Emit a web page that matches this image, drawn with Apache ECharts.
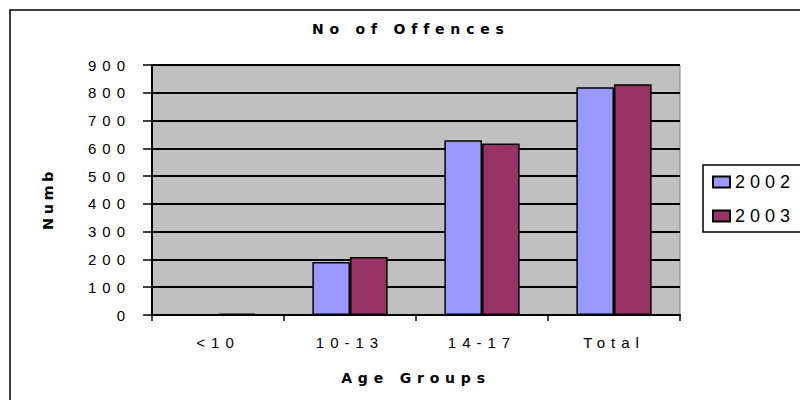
<!DOCTYPE html>
<html>
<head>
<meta charset="utf-8">
<script src="https://cdn.jsdelivr.net/npm/echarts@6/dist/echarts.min.js"></script>
<style>
  html, body { margin: 0; padding: 0; background: #fff; }
  #chart { width: 800px; height: 400px; }
  /* wide tracking, keyed on each text size used below */
  #chart text[style*="14px"] { letter-spacing: 5.8px; }
  #chart text[style*="14.5px"] { letter-spacing: 3.5px; }
  #chart text[style*="15px"] { letter-spacing: 6px; }
  #chart text[style*="18px"] { letter-spacing: 5px; }
</style>
</head>
<body>
<div id="chart"></div>
<script>
// Offences by age group
const categories = ['<10', '10-13', '14-17', 'Total'];
const seriesNames = ['2002', '2003'];
const offences2002 = [0, 191, 629, 820];
const offences2003 = [5, 209, 617, 831];
const yMin = 0;
const yMax = 900;
const yStep = 100;

const titleText = 'No of Offences';
const xAxisTitle = 'Age Groups';
const yAxisTitle = 'Numb';

const FONT = '"Liberation Sans", Arial, sans-serif';
const HEAD_FONT = '"DejaVu Sans", "Liberation Sans", sans-serif';

const chart = echarts.init(document.getElementById('chart'), null, { renderer: 'svg' });

chart.setOption({
  backgroundColor: '#ffffff',
  animation: false,
  title: {
    text: titleText,
    left: 312,
    top: 22,
    padding: 0,
    textStyle: { fontFamily: HEAD_FONT, fontSize: 14, fontWeight: 'bold', color: '#000' }
  },
  legend: {
    orient: 'vertical',
    left: 703,
    top: 165,
    padding: [8, 40, 7, 9],
    itemGap: 16,
    itemWidth: 17,
    itemHeight: 11,
    borderColor: '#000',
    borderWidth: 1.5,
    backgroundColor: '#fff',
    icon: 'rect',
    data: seriesNames,
    textStyle: { fontFamily: FONT, fontSize: 18, color: '#000' }
  },
  grid: {
    left: 152,
    right: 120,
    top: 65,
    bottom: 85,
    show: true,
    backgroundColor: '#c0c0c0',
    borderColor: '#808080',
    borderWidth: 1
  },
  xAxis: {
    type: 'category',
    data: categories,
    name: xAxisTitle,
    nameLocation: 'middle',
    nameGap: 56,
    nameTextStyle: { fontFamily: HEAD_FONT, fontSize: 14, fontWeight: 'bold', color: '#000' },
    axisLine: { lineStyle: { color: '#000', width: 2 } },
    axisTick: { show: true, alignWithLabel: false, length: 6, lineStyle: { color: '#000', width: 1.5 } },
    axisLabel: { margin: 20, fontFamily: FONT, fontSize: 15, color: '#000' },
    splitLine: { show: false }
  },
  yAxis: {
    type: 'value',
    min: yMin,
    max: yMax,
    interval: yStep,
    axisLine: { show: true, lineStyle: { color: '#000', width: 2 } },
    axisTick: { show: true, length: 9, lineStyle: { color: '#000', width: 1.5 } },
    axisLabel: { margin: 21, fontFamily: FONT, fontSize: 15, color: '#000' },
    splitLine: { show: true, lineStyle: { color: '#000', width: 2 } }
  },
  series: [
    {
      name: seriesNames[0],
      type: 'bar',
      data: offences2002,
      barGap: '0%',
      barCategoryGap: '43%',
      itemStyle: { color: '#9999ff', borderColor: '#000', borderWidth: 1.5 }
    },
    {
      name: seriesNames[1],
      type: 'bar',
      data: offences2003,
      barGap: '0%',
      barCategoryGap: '43%',
      itemStyle: { color: '#993366', borderColor: '#000', borderWidth: 1.5 }
    }
  ],
  graphic: [
    {
      type: 'rect',
      silent: true,
      z: -10,
      shape: { x: 10, y: 10, width: 1000, height: 1000 },
      style: { fill: 'transparent', stroke: '#000', lineWidth: 1.5 }
    },
    {
      type: 'text',
      x: 48,
      y: 199,
      rotation: Math.PI / 2,
      style: {
        text: yAxisTitle,
        fontFamily: HEAD_FONT,
        fontSize: 14.5,
        fontWeight: 'bold',
        fill: '#000',
        align: 'center',
        verticalAlign: 'middle'
      }
    }
  ]
});
</script>
</body>
</html>
